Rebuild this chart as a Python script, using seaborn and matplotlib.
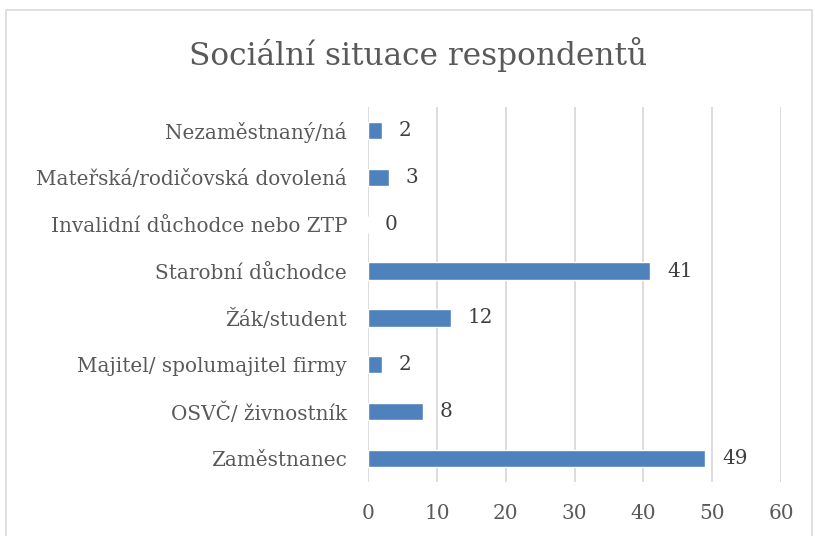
import matplotlib
matplotlib.use('Agg')
import matplotlib.pyplot as plt
from matplotlib.patches import Rectangle
import pandas as pd
import seaborn as sns

# Data (top to bottom as shown in the chart)
categories = ['Nezaměstnaný/ná', 'Mateřská/rodičovská dovolená', 'Invalidní důchodce nebo ZTP',
              'Starobní důchodce', 'Žák/student', 'Majitel/ spolumajitel firmy',
              'OSVČ/ živnostník', 'Zaměstnanec']
counts = [2, 3, 0, 41, 12, 2, 8, 49]
x_ticks = [0, 10, 20, 30, 40, 50, 60]

df = pd.DataFrame({'kategorie': categories, 'pocet': counts})

sns.set_theme(style='white')
plt.rcParams['font.family'] = ['DejaVu Serif']

W, H = 815, 536
fig = plt.figure(figsize=(W / 100, H / 100), dpi=100)
ax = fig.add_axes([368 / W, 1 - 482 / H, (781 - 368) / W, (482 - 107) / H])

sns.barplot(data=df, x='pocet', y='kategorie', order=categories, orient='h',
            color='#4F81BD', saturation=1, width=0.37, ax=ax)

ax.set_xlim(0, 60)
ax.set_xticks(x_ticks)
ax.xaxis.grid(True, color='#D9D9D9', linewidth=1.3)
ax.set_axisbelow(True)
for s in ax.spines.values():
    s.set_visible(False)
ax.set_xlabel('')
ax.set_ylabel('')
ax.tick_params(axis='x', length=0, pad=16, labelsize=14.4, labelcolor='#595959')
ax.tick_params(axis='y', length=0, pad=15, labelsize=14.4, labelcolor='#595959')

# value labels
for i, v in enumerate(counts):
    ax.annotate(str(v), xy=(v, i), xytext=(12, 0), textcoords='offset points',
                va='center', ha='left', fontsize=14.4, color='#404040')

fig.text(418 / W, 1 - 55 / H, 'Sociální situace respondentů', ha='center', va='center',
         fontsize=22.5, color='#595959')

# chart frame
fig.patches.append(Rectangle((6 / W, -0.05), (812 - 6) / W, 1.05 - 10 / H,
                             transform=fig.transFigure, fill=False,
                             edgecolor='#D9D9D9', linewidth=1.2))

fig.savefig('out.png', dpi=100)
